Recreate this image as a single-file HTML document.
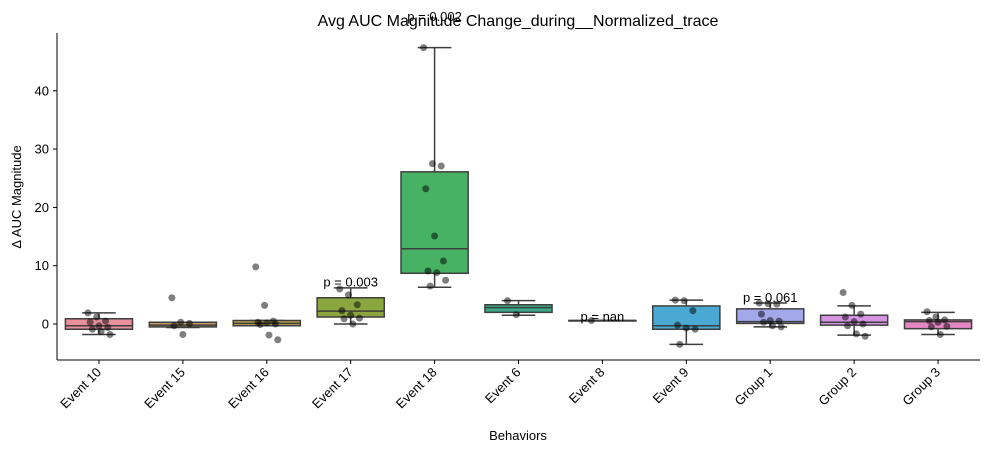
<!DOCTYPE html>
<html><head><meta charset="utf-8"><style>
body{margin:0;background:#fff;font-family:"Liberation Sans","DejaVu Sans",sans-serif}
</style></head><body>
<svg id="c" width="989" height="453" xmlns="http://www.w3.org/2000/svg" font-family="Liberation Sans, DejaVu Sans, sans-serif"></svg>
<script>
const categories=["Event 10","Event 15","Event 16","Event 17","Event 18","Event 6","Event 8","Event 9","Group 1","Group 2","Group 3"];
const q1s=[-0.9,-0.5,-0.3,1.2,8.7,2.0,0.6,-0.9,0.1,-0.2,-0.8];
const medians=[-0.3,-0.2,0.1,2.2,12.9,2.8,0.6,-0.3,0.4,0.3,0.4];
const q3s=[0.9,0.3,0.6,4.5,26.1,3.3,0.6,3.1,2.6,1.5,0.7];
const whiskLo=[-1.8,-0.6,-0.3,0,6.3,1.5,0.6,-3.5,-0.5,-1.9,-1.8];
const whiskHi=[1.9,0.3,0.6,6.2,47.4,4.0,0.6,4.1,3.6,3.1,2.0];
const points=[[1.9,1.2,0.5,0.3,-0.3,-0.6,-0.9,-1.3,-1.8],[4.5,0.3,0.1,-0.3,-1.8],[9.8,3.2,0.5,0.3,0.2,0,-0.1,-1.9,-2.7],[6,5,3.3,2.3,1.5,1,0.9,0],[47.4,27.5,27.1,23.2,15.1,10.8,9.1,8.8,7.5,6.5],[4,1.6],[0.6],[4.1,4,2.3,-0.2,-0.7,-0.9,-3.5],[3.6,3.5,3.4,1.7,0.6,0.5,0.3,-0.3,-0.5],[5.4,3.2,1.7,1.2,0.4,0,-0.3,-1.7,-2.1],[2.1,1.2,0.7,0.6,0.3,-0.4,-0.5,-1.8]];
const pLabels=[null,null,null,"p = 0.003","p = 0.002",null,"p = nan",null,"p = 0.061",null,null];
const yTicks=[0,10,20,30,40];
const colors=["#e8909c","#c69a63","#b8a047","#8ba63f","#47b264","#3aab88","#3fa8a6","#4aa9d2","#a3a8ea","#d693e1","#e587c3"];
const L=57,R=980,T=33,B=360;
const n=categories.length,bw=(R-L)/n;
const xc=i=>L+bw*(i+0.5);
const y=v=>324-v*5.83;
const s=document.getElementById('c');const NS="http://www.w3.org/2000/svg";
function el(t,a,p){const e=document.createElementNS(NS,t);for(const k in a)e.setAttribute(k,a[k]);(p||s).appendChild(e);return e;}
const bx=0.8*bw/2;
categories.forEach((c,i)=>{
 const g=el('g',{});
 
 
 const x=xc(i);
 el('line',{x1:x,x2:x,y1:y(whiskHi[i]),y2:y(q3s[i]),stroke:'#3f3f3f','stroke-width':1.5},g);
 el('line',{x1:x,x2:x,y1:y(q1s[i]),y2:y(whiskLo[i]),stroke:'#3f3f3f','stroke-width':1.5},g);
 el('line',{x1:x-bx/2,x2:x+bx/2,y1:y(whiskHi[i]),y2:y(whiskHi[i]),stroke:'#3f3f3f','stroke-width':1.5},g);
 el('line',{x1:x-bx/2,x2:x+bx/2,y1:y(whiskLo[i]),y2:y(whiskLo[i]),stroke:'#3f3f3f','stroke-width':1.5},g);
 el('rect',{x:x-bx,y:y(q3s[i]),width:2*bx,height:Math.max(0.5,y(q1s[i])-y(q3s[i])),fill:colors[i],stroke:'#3f3f3f','stroke-width':1.5},g);
 el('line',{x1:x-bx,x2:x+bx,y1:y(medians[i]),y2:y(medians[i]),stroke:'#3f3f3f','stroke-width':1.5},g);
 points[i].forEach((v,j)=>{
  const jit=((j*37)%11-5)*2.2;
  const p=el('circle',{cx:x+jit,cy:y(v),r:3.5,fill:'#000','fill-opacity':0.5});
  
  
 });
 if(pLabels[i]){const pt=el('text',{x:x,y:y(Math.max(...points[i])*1.1)+1,'text-anchor':'middle','font-size':13});pt.textContent=pLabels[i];
  }
 el('line',{x1:x,x2:x,y1:B,y2:B+4,stroke:'#000'});
 const lt=el('text',{'text-anchor':'end','font-size':13,transform:`translate(${x+3},${B+13}) rotate(-45)`});lt.textContent=c;
 
});
let t=el('text',{x:518,y:26,'text-anchor':'middle','font-size':16,fill:'#000'});t.textContent="Avg AUC Magnitude Change_during__Normalized_trace";

yTicks.forEach(v=>{el('line',{x1:L-4,x2:L,y1:y(v),y2:y(v),stroke:'#000'});
 const tt=el('text',{x:L-8,y:y(v)+4.5,'text-anchor':'end','font-size':13});tt.textContent=v;
 });
el('line',{x1:L,x2:L,y1:T,y2:B,stroke:'#000','stroke-width':1});
el('line',{x1:L,x2:R,y1:B,y2:B,stroke:'#000','stroke-width':1});
let xl=el('text',{x:518,y:440,'text-anchor':'middle','font-size':13});xl.textContent="Behaviors";

let yl=el('text',{'text-anchor':'middle','font-size':13,transform:'translate(21,197) rotate(-90)'});yl.textContent="Δ AUC Magnitude";

</script>
</body></html>
